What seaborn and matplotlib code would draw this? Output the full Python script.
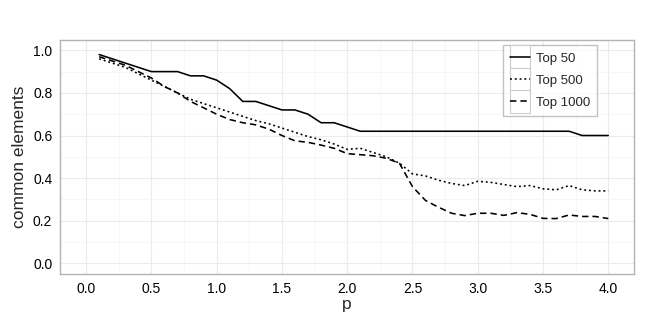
import numpy as np
import pandas as pd
import matplotlib
matplotlib.use("Agg")
import matplotlib.pyplot as plt
import seaborn as sns
from matplotlib.ticker import MultipleLocator
from matplotlib.legend_handler import HandlerLine2D
from matplotlib.patches import Rectangle
from matplotlib.lines import Line2D

p = [round(0.1 * i, 1) for i in range(1, 41)]

top50 = [0.98, 0.96, 0.94, 0.92, 0.90, 0.90, 0.90, 0.88, 0.88, 0.86,
         0.82, 0.76, 0.76, 0.74, 0.72, 0.72, 0.70, 0.66, 0.66, 0.64,
         0.62, 0.62, 0.62, 0.62, 0.62, 0.62, 0.62, 0.62, 0.62, 0.62,
         0.62, 0.62, 0.62, 0.62, 0.62, 0.62, 0.62, 0.60, 0.60, 0.60]

top500 = [0.96, 0.94, 0.92, 0.89, 0.86, 0.83, 0.80, 0.77, 0.75, 0.73,
          0.71, 0.69, 0.67, 0.655, 0.635, 0.615, 0.595, 0.58, 0.56, 0.535,
          0.54, 0.52, 0.50, 0.47, 0.42, 0.41, 0.39, 0.375, 0.365, 0.385,
          0.38, 0.37, 0.36, 0.365, 0.35, 0.345, 0.365, 0.345, 0.34, 0.34]

top1000 = [0.97, 0.95, 0.93, 0.90, 0.87, 0.83, 0.80, 0.76, 0.73, 0.70,
           0.675, 0.66, 0.65, 0.63, 0.60, 0.575, 0.568, 0.555, 0.54, 0.515,
           0.51, 0.505, 0.493, 0.47, 0.36, 0.295, 0.263, 0.235, 0.224, 0.235,
           0.235, 0.225, 0.238, 0.23, 0.211, 0.21, 0.227, 0.22, 0.22, 0.21]

series_names = ["Top 50", "Top 500", "Top 1000"]

df = pd.concat([
    pd.DataFrame({"p": p, "value": v, "series": name})
    for name, v in zip(series_names, [top50, top500, top1000])
], ignore_index=True)

sns.set_style("white")
plt.rcParams["font.family"] = ["Liberation Sans", "DejaVu Sans"]

fig = plt.figure(figsize=(6.5, 3.25), dpi=100)
ax = fig.add_axes([0.0923, 0.157, 0.976 - 0.0923, 0.878 - 0.157])

sns.lineplot(data=df, x="p", y="value", style="series", style_order=series_names,
             dashes={"Top 50": "", "Top 500": (1.2, 1.8), "Top 1000": (4, 2.5)},
             color="black", linewidth=1.15, ax=ax)

ax.set_xlim(-0.2, 4.2)
ax.set_ylim(-0.05, 1.05)
ax.xaxis.set_minor_locator(MultipleLocator(0.25))
ax.yaxis.set_minor_locator(MultipleLocator(0.1))
ax.set_xticks(np.arange(0, 4.01, 0.5))
ax.set_xticklabels([f"{t:.1f}" for t in np.arange(0, 4.01, 0.5)])
ax.set_yticks(np.arange(0, 1.01, 0.2))
ax.set_yticklabels([f"{t:.1f}" for t in np.arange(0, 1.01, 0.2)])

ax.grid(which="major", color="#ebebeb", linewidth=0.8)
ax.grid(which="minor", color="#f5f5f5", linewidth=0.6)
ax.set_axisbelow(True)
for s in ax.spines.values():
    s.set_color("#b3b3b3")
    s.set_linewidth(1.0)

ax.tick_params(axis="both", which="major", length=3.5, width=0.8, color="#999999",
               labelsize=10, labelcolor="black", direction="out", pad=2)
ax.tick_params(axis="both", which="minor", length=0)
ax.set_xlabel("p", fontsize=12.5, labelpad=1)
ax.set_ylabel("common elements", fontsize=12.5, labelpad=4)

LEG_FS = 9.5
LABEL_SPACING = 0.75


class BoxedLineHandler(HandlerLine2D):
    def create_artists(self, legend, orig_handle, xdescent, ydescent,
                       width, height, fontsize, trans):
        artists = super().create_artists(legend, orig_handle, xdescent, ydescent,
                                         width, height, fontsize, trans)
        row = (1.0 + LABEL_SPACING) * fontsize
        pad_y = (row - height) / 2
        rect = Rectangle((-xdescent, -ydescent - pad_y), width, height + 2 * pad_y,
                         facecolor="white", edgecolor="#cccccc", linewidth=0.8,
                         transform=trans, zorder=0)
        return [rect] + list(artists)


handles, labels = ax.get_legend_handles_labels()
leg = ax.legend(handles, labels, title=None, loc="upper right",
                bbox_to_anchor=(0.935, 0.977), borderaxespad=0,
                fontsize=LEG_FS, frameon=True, fancybox=False, handlelength=1.5,
                borderpad=0.55, labelspacing=LABEL_SPACING, handletextpad=0.42,
                handler_map={Line2D: BoxedLineHandler()})
leg.get_frame().set_edgecolor("#b3b3b3")
leg.get_frame().set_linewidth(1.0)

fig.savefig("out.png", dpi=100)
